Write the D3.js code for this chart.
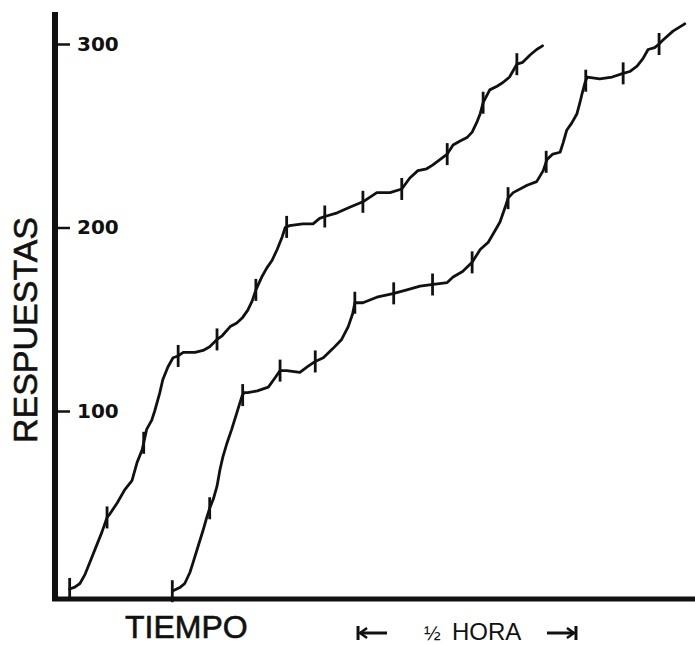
<!DOCTYPE html>
<html>
<head>
<meta charset="utf-8">
<script src="https://cdn.jsdelivr.net/npm/d3@7"></script>
<style>
  html, body { margin: 0; padding: 0; background: #fff; }
  svg { display: block; }
</style>
</head>
<body>
<svg id="chart" width="695" height="645"></svg>
<script>
// ---- data (time in minutes, cumulative responses) ----
const curve1Time = [2.0,2.7,3.4,4.1,4.8,5.5,6.4,7.1,7.5,8.5,9.5,10.5,11.2,11.9,12.5,13.2,13.6,14.3,14.7,15.4,16.1,16.8,17.5,19.1,20.2,21.1,22.1,22.8,23.9,24.8,25.6,26.3,26.9,27.4,28.2,28.9,29.6,30.3,31.0,31.4,32.0,33.8,35.2,36.1,36.8,38.5,40.2,42.0,43.9,45.7,47.3,48.4,49.5,50.7,51.5,52.5,53.5,54.3,55.2,56.2,56.9,57.5,58.0,58.4,59.3,60.3,61.1,62.0,63.0,63.8,64.8,65.7,66.5];
const curve1Resp = [3,4,6,11,18,25,34,42,44,50,57,62,72,79,90,95,100,110,117,124,129,130,132,132,133,135,139,141,146,148,151,155,160,166,173,178,182,188,195,200,201,202,202,205,206,208,211,214,219,219,221,227,231,232,234,237,240,245,247,249,252,257,262,268,275,277,279,282,289,290,294,297,299];
const curve1Marks = [2.0,7.1,12.1,16.8,22.1,27.4,31.6,36.8,42.0,47.3,53.5,58.4,63.0];

const curve2Time = [16.1,17.1,17.7,18.4,18.8,19.5,20.2,20.7,21.1,21.6,22.1,22.5,22.9,23.5,24.1,24.8,25.5,25.8,26.3,27.6,29.1,30.0,30.7,31.6,33.4,34.4,35.5,36.6,37.9,39.1,40.0,40.6,40.9,42.0,43.9,46.1,48.0,49.8,51.6,53.5,54.3,55.6,56.9,58.0,59.1,59.7,60.7,61.4,61.8,62.5,64.4,65.7,66.6,67.1,67.9,68.9,69.3,69.8,70.5,71.2,71.6,71.9,72.3,72.6,74.3,76.0,77.5,78.4,79.4,80.2,80.9,81.8,82.4,82.9,84.3,85.9];
const curve2Resp = [2,4,6,12,17,26,35,42,47,52,59,68,75,83,90,99,108,110,110,111,113,118,122,122,121,124,127,129,134,139,146,153,159,159,162,164,166,168,169,170,173,176,181,188,192,196,203,211,216,219,223,225,231,237,240,241,246,253,257,262,268,273,279,282,281,282,284,285,288,292,297,298,300,302,307,311];
const curve2Marks = [16.0,21.1,25.6,30.7,35.5,40.9,46.2,51.5,56.9,61.8,67.0,72.4,77.5,82.4];

const yTicks = [100, 200, 300];
const yTitle = "RESPUESTAS";
const xTitle = "TIEMPO";
const scaleLabelFrac = "½";
const scaleLabelUnit = "HORA";
const halfHourStart = 41.2;   // minutes
const halfHourLength = 30;    // minutes

// ---- scales ----
const svg = d3.select("#chart");
const x = d3.scaleLinear().domain([0, 87.3]).range([55, 695]);
const y = d3.scaleLinear().domain([0, 300]).range([594.5, 44]);

// ---- axes ----
svg.append("line").attr("x1", x(0)).attr("x2", x(0))
  .attr("y1", 12).attr("y2", 601)
  .attr("stroke", "#111").attr("stroke-width", 6);
svg.append("line").attr("x1", x(0) - 3).attr("x2", x(87.3))
  .attr("y1", 599).attr("y2", 599)
  .attr("stroke", "#111").attr("stroke-width", 5);

const yAxis = d3.axisRight(y).tickValues(yTicks).tickSize(13).tickPadding(7);
const gy = svg.append("g").attr("transform", `translate(${x(0) + 2},0)`).call(yAxis);
gy.select(".domain").remove();
gy.selectAll(".tick line").attr("stroke", "#111").attr("stroke-width", 2.5);
gy.selectAll(".tick text")
  .attr("fill", "#111")
  .style("font-family", "'DejaVu Sans', sans-serif")
  .style("font-weight", "bold")
  .style("font-size", "20px");

// ---- titles ----
svg.append("text")
  .attr("transform", `translate(37,330) rotate(-90)`)
  .attr("text-anchor", "middle")
  .style("font-family", "'Liberation Sans', Arial, sans-serif")
  .style("font-size", "34px")
  .attr("fill", "#111")
  .attr("stroke", "#111").attr("stroke-width", 0.6)
  .text(yTitle);

svg.append("text")
  .attr("x", 125).attr("y", 638)
  .style("font-family", "'Liberation Sans', Arial, sans-serif")
  .style("font-size", "32px")
  .attr("fill", "#111")
  .attr("stroke", "#111").attr("stroke-width", 0.6)
  .text(xTitle);

// ---- half hour bracket ----
const hx0 = x(halfHourStart), hx1 = x(halfHourStart + halfHourLength), hy = 633;
const br = svg.append("g").attr("stroke", "#111").attr("fill", "none")
  .attr("stroke-linecap", "butt");
br.append("line").attr("x1", hx0 + 1).attr("x2", hx0 + 1).attr("y1", hy - 7).attr("y2", hy + 7).attr("stroke-width", 3);
br.append("path").attr("d", `M${hx0 + 10},${hy - 5} L${hx0 + 3},${hy} L${hx0 + 10},${hy + 5}`).attr("stroke-width", 2.5);
br.append("line").attr("x1", hx0 + 3).attr("x2", hx0 + 30).attr("y1", hy).attr("y2", hy).attr("stroke-width", 3);
br.append("line").attr("x1", hx1 - 1).attr("x2", hx1 - 1).attr("y1", hy - 7).attr("y2", hy + 7).attr("stroke-width", 3);
br.append("path").attr("d", `M${hx1 - 10},${hy - 5} L${hx1 - 3},${hy} L${hx1 - 10},${hy + 5}`).attr("stroke-width", 2.5);
br.append("line").attr("x1", hx1 - 30).attr("x2", hx1 - 3).attr("y1", hy).attr("y2", hy).attr("stroke-width", 3);

svg.append("text")
  .attr("x", 424).attr("y", 640)
  .style("font-family", "'Liberation Sans', Arial, sans-serif")
  .style("font-size", "20px")
  .attr("fill", "#111")
  .text(scaleLabelFrac);
svg.append("text")
  .attr("x", 452).attr("y", 640)
  .style("font-family", "'Liberation Sans', Arial, sans-serif")
  .style("font-size", "24px")
  .attr("fill", "#111")
  .text(scaleLabelUnit);

// ---- curves ----
const line = d3.line().x(d => x(d[0])).y(d => y(d[1])).curve(d3.curveLinear);
function drawRecord(times, resps, marks) {
  const pts = times.map((t, i) => [t, resps[i]]);
  svg.append("path").datum(pts)
    .attr("d", line)
    .attr("fill", "none")
    .attr("stroke", "#111")
    .attr("stroke-width", 2.8)
    .attr("stroke-linejoin", "round")
    .attr("stroke-linecap", "round");
  const interp = d3.scaleLinear().domain(times).range(resps);
  svg.append("g").selectAll("line").data(marks).join("line")
    .attr("x1", d => x(d)).attr("x2", d => x(d))
    .attr("y1", d => y(interp(d)) - 11)
    .attr("y2", d => y(interp(d)) + 11)
    .attr("stroke", "#111").attr("stroke-width", 2.8);
}
drawRecord(curve1Time, curve1Resp, curve1Marks);
drawRecord(curve2Time, curve2Resp, curve2Marks);
</script>
</body>
</html>
